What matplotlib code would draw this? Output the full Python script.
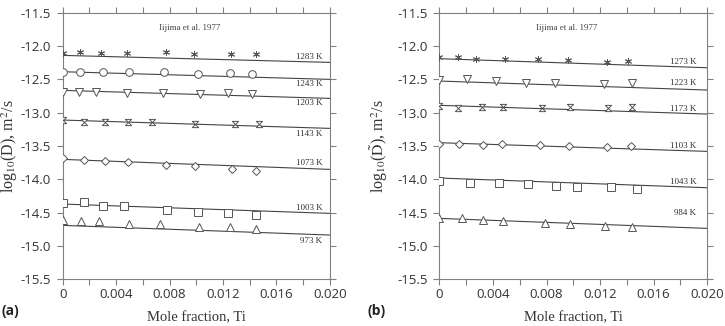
import matplotlib
matplotlib.use("Agg")
import matplotlib.pyplot as plt
import numpy as np

plt.rcParams['mathtext.fontset'] = 'stix'

# ---------------- Panel (a) data ----------------
temps_a = ["1283 K", "1243 K", "1203 K", "1143 K", "1073 K", "1003 K", "973 K"]
x_a = [
    [0.0, 0.0013, 0.00284, 0.00479, 0.0077, 0.0098, 0.0126, 0.01446],
    [0.0, 0.0013, 0.0030, 0.0050, 0.0076, 0.0101, 0.0125, 0.0142],
    [0.0, 0.0012, 0.0025, 0.0048, 0.0075, 0.0103, 0.0124, 0.0142],
    [0.0, 0.0016, 0.0032, 0.0049, 0.0067, 0.0099, 0.0129, 0.0147],
    [0.0, 0.0016, 0.0032, 0.0049, 0.0077, 0.0099, 0.0127, 0.0145],
    [0.0, 0.0016, 0.0030, 0.0046, 0.0078, 0.0101, 0.0124, 0.0145],
    [0.0, 0.0014, 0.0027, 0.0050, 0.0073, 0.0102, 0.0125, 0.0145],
]
y_a = [
    [-12.11, -12.085, -12.11, -12.10, -12.095, -12.125, -12.12, -12.12],
    [-12.385, -12.385, -12.385, -12.395, -12.395, -12.415, -12.405, -12.415],
    [-12.685, -12.695, -12.685, -12.70, -12.70, -12.72, -12.71, -12.72],
    [-13.11, -13.135, -13.135, -13.14, -13.14, -13.175, -13.175, -13.175],
    [-13.685, -13.71, -13.73, -13.74, -13.785, -13.80, -13.85, -13.88],
    [-14.35, -14.34, -14.40, -14.395, -14.455, -14.495, -14.51, -14.535],
    [-14.61, -14.62, -14.62, -14.67, -14.675, -14.71, -14.715, -14.74],
]
fit_a_start = [-12.14, -12.385, -12.665, -13.11, -13.70, -14.37, -14.69]
fit_a_end = [-12.245, -12.50, -12.785, -13.235, -13.85, -14.51, -14.835]
label_a_y = [-12.16, -12.575, -12.86, -13.325, -13.755, -14.425, -14.92]
markers_a = ["asterisk", "o", "v", "hourglass", "D", "s", "^"]

# ---------------- Panel (b) data ----------------
temps_b = ["1273 K", "1223 K", "1173 K", "1103 K", "1043 K", "984 K"]
x_b = [
    [0.0, 0.0014, 0.00273, 0.0049, 0.0074, 0.00964, 0.01249, 0.0141],
    [0.0, 0.00208, 0.00422, 0.00645, 0.00864, 0.01232, 0.01442],
    [0.0, 0.0014, 0.0032, 0.00477, 0.00769, 0.00976, 0.01262, 0.01442],
    [0.0, 0.00146, 0.00328, 0.0047, 0.00751, 0.00968, 0.0125, 0.0143],
    [0.0, 0.00228, 0.00445, 0.0066, 0.0087, 0.0103, 0.0128, 0.0148],
    [0.0, 0.00166, 0.00327, 0.00472, 0.00789, 0.00976, 0.0124, 0.0144],
]
y_b = [
    [-12.16, -12.17, -12.19, -12.20, -12.20, -12.21, -12.235, -12.225],
    [-12.51, -12.50, -12.52, -12.55, -12.55, -12.57, -12.55],
    [-12.90, -12.935, -12.92, -12.92, -12.93, -12.91, -12.93, -12.92],
    [-13.47, -13.465, -13.48, -13.465, -13.49, -13.505, -13.51, -13.50],
    [-14.02, -14.05, -14.06, -14.065, -14.10, -14.11, -14.12, -14.15],
    [-14.584, -14.584, -14.61, -14.62, -14.66, -14.67, -14.70, -14.72],
]
fit_b_start = [-12.19, -12.525, -12.889, -13.45, -13.98, -14.585]
fit_b_end = [-12.325, -12.66, -13.02, -13.58, -14.125, -14.735]
label_b_y = [-12.235, -12.56, -12.94, -13.50, -14.04, -14.51]
markers_b = ["asterisk", "v", "hourglass", "D", "s", "^"]

xticks = [0, 0.004, 0.008, 0.012, 0.016, 0.020]
xtick_labels = ["0", "0.004", "0.008", "0.012", "0.016", "0.020"]
yticks = [-15.5, -15.0, -14.5, -14.0, -13.5, -13.0, -12.5, -12.0, -11.5]
ytick_labels = ["-15.5", "-15.0", "-14.5", "-14.0", "-13.5", "-13.0", "-12.5", "-12.0", "-11.5"]

hourglass = [(-1, 1), (1, 1), (-1, -1), (1, -1), (-1, 1)]
marker_map = {"asterisk": (6, 2, 0), "hourglass": hourglass}
size_map = {"asterisk": 5, "o": 5.5, "v": 5.5, "hourglass": 4.5, "D": 4.5, "s": 5.5, "^": 5.5}

GRAY = "#808080"
MK = "#555555"
LN = "#444444"
SERIF = "Liberation Serif"
SANS = "Open Sans"

fig = plt.figure(figsize=(7.25, 3.26), dpi=100)
ax_a = fig.add_axes([0.0865, 0.143, 0.3683, 0.818])
ax_b = fig.add_axes([0.6062, 0.143, 0.3690, 0.818])


def draw(ax, temps, xs, ys, f0, f1, ly, mks, ylabel, lab_x, ylab_x):
    for t, x, y, a, b, yl, m in zip(temps, xs, ys, f0, f1, ly, mks):
        ax.plot([0.0, 0.020], [a, b], color=LN, lw=0.8, zorder=2)
        mk = marker_map.get(m, m)
        ax.plot(x, y, linestyle="none", marker=mk, markersize=size_map[m],
                markerfacecolor="white" if m != "asterisk" else MK,
                markeredgecolor=MK, markeredgewidth=0.7, zorder=3)
        ax.text(lab_x, yl, t, ha="right", va="center", fontsize=6.5,
                family=SERIF, color="#333333")
    ax.set_xlim(0, 0.020)
    ax.set_ylim(-15.5, -11.5)
    ax.set_xticks(xticks)
    ax.set_xticklabels(xtick_labels)
    ax.set_xticks(np.arange(0.002, 0.020, 0.004), minor=True)
    ax.set_yticks(yticks)
    ax.set_yticklabels(ytick_labels)
    ax.tick_params(axis="both", which="both", direction="out", length=4,
                   width=0.8, color=GRAY, top=True, right=True,
                   labelsize=9.5, labelcolor="#333333")
    ax.tick_params(axis="x", which="major", pad=2.5)
    ax.tick_params(axis="y", which="major", pad=4.5)
    for lab in ax.get_xticklabels() + ax.get_yticklabels():
        lab.set_family(SANS)
    for s in ax.spines.values():
        s.set_color(GRAY)
        s.set_linewidth(0.8)
    ax.set_xlabel("Mole fraction, Ti", family=SERIF, fontsize=10.5,
                  color="#333333")
    ax.xaxis.label.set_va("center")
    ax.xaxis.set_label_coords(0.5, -0.145)
    ax.set_ylabel(ylabel, family=SERIF, fontsize=11.5, color="#333333")
    ax.yaxis.label.set_va("center")
    ax.yaxis.set_label_coords(ylab_x, 0.5)
    ax.text(0.0095, -11.735, "Iijima et al. 1977", ha="center", va="center",
            fontsize=6.5, family=SERIF, color="#444444")


draw(ax_a, temps_a, x_a, y_a, fit_a_start, fit_a_end, label_a_y, markers_a,
     r"log$_{10}$(D), m$^{2}$/s", 0.01945, -0.197)
draw(ax_b, temps_b, x_b, y_b, fit_b_start, fit_b_end, label_b_y, markers_b,
     r"log$_{10}$($\tilde{\mathrm{D}}$), m$^{2}$/s", 0.0192, -0.224)

fig.text(0.002, 0.045, "(a)", fontsize=10, fontweight="bold", family=SANS,
         color="#222222", va="center")
fig.text(0.507, 0.045, "(b)", fontsize=10, fontweight="bold", family=SANS,
         color="#222222", va="center")

fig.savefig("out.png", dpi=100)
